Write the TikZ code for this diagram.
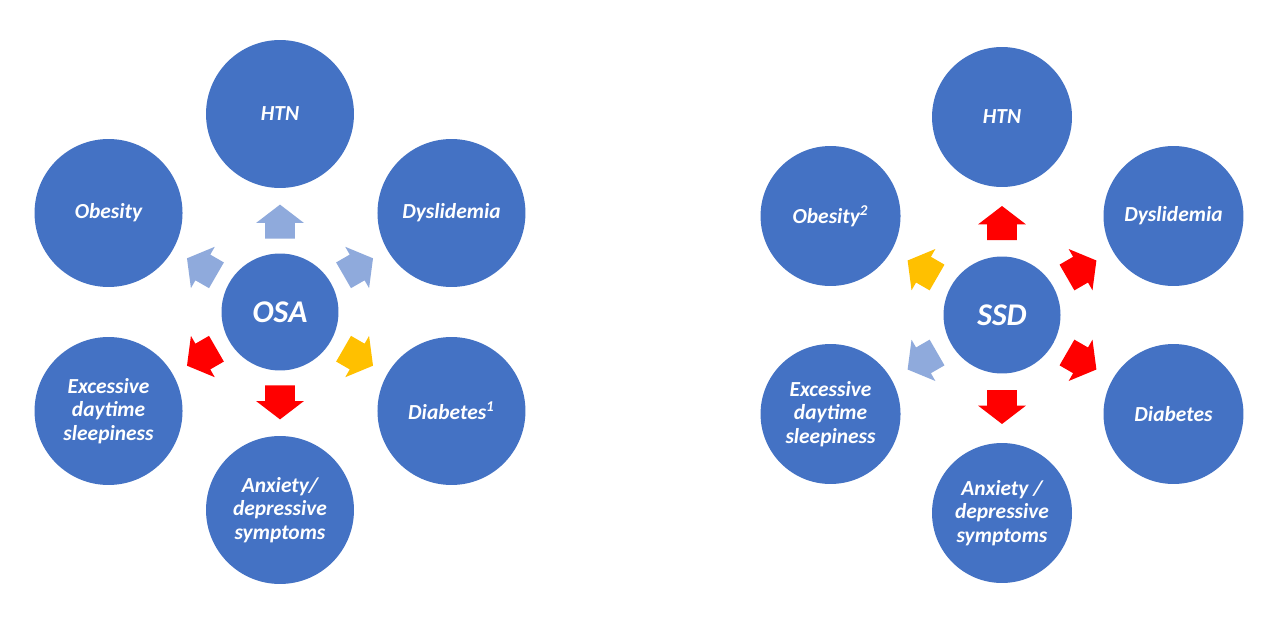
\documentclass[tikz,border=0pt]{standalone}
\usepackage{fontspec}
\setmainfont{Carlito}
\usetikzlibrary{shapes.arrows, calc, positioning}
\definecolor{myblue}{RGB}{68,114,196}
\definecolor{mylight}{RGB}{143,170,220}
\definecolor{myred}{RGB}{255,0,0}
\definecolor{myamber}{RGB}{255,192,0}
\tikzset{
  bignode/.style={circle, fill=myblue, minimum size=2.96cm,
    inner sep=0pt, outer sep=0pt, align=center, text=white,
    font=\fontsize{12.2}{13.4}\selectfont\bfseries\itshape},
  hub/.style={circle, fill=myblue, minimum size=2.34cm,
    inner sep=0pt, outer sep=0pt, text=white,
    font=\fontsize{18}{21}\selectfont\bfseries\itshape},
  blockarrow/.style={single arrow, draw=none, minimum height=0.68cm,
    minimum width=0.94cm, inner xsep=0pt, inner ysep=0.29cm,
    single arrow head extend=0.18cm, single arrow tip angle=105,
    outer sep=0pt},
  bluearrow/.style={blockarrow, fill=mylight},
  redarrow/.style={blockarrow, fill=myred},
  yellowarrow/.style={blockarrow, fill=myamber}
}

\begin{document}
\begin{tikzpicture}[x=0.02cm, y=0.02cm]
  \fill[white] (0,0) rectangle (1280,640);
  \useasboundingbox (0,0) rectangle (1280,640);
  % OSA
  \begin{scope}[shift={(280,328)}]
    \node[hub] (osa) at (0,0) {OSA};
    \node[bignode] (htnA) at (90:198) {HTN};
    \node[bignode] (obeA) at (150:198) {Obesity};
    \node[bignode] (dysA) at (30:198) {Dyslidemia};
    \node[bignode] (excA) at (210:198) {Excessive\\daytime\\sleepiness};
    \node[bignode] (diaA) at (330:198) {Diabetes\textsuperscript{1}};
    \node[bignode] (anxA) at (270:198) {Anxiety/\\depressive\\symptoms};
    \foreach \ang/\opp/\nm/\sty in {90/270/htnA/bluearrow, 150/330/obeA/bluearrow,
        30/210/dysA/bluearrow, 210/30/excA/redarrow,
        330/150/diaA/yellowarrow, 270/90/anxA/redarrow}
      \node[\sty, rotate=\ang] (to\nm) at ($(osa.\ang)!0.4!(\nm.\opp)$) {};
  \end{scope}
  % SSD
  \begin{scope}[shift={(1002,325)}, bignode/.append style={minimum size=2.8cm}]
    \node[hub] (ssd) at (0,0) {SSD};
    \node[bignode] (htnB) at (90:198) {HTN};
    \node[bignode] (obeB) at (150:198) {Obesity\textsuperscript{2}};
    \node[bignode] (dysB) at (30:198) {Dyslidemia};
    \node[bignode] (excB) at (210:198) {Excessive\\daytime\\sleepiness};
    \node[bignode] (diaB) at (330:198) {Diabetes};
    \node[bignode] (anxB) at (270:198) {Anxiety /\\depressive\\symptoms};
    \foreach \ang/\opp/\nm/\sty in {90/270/htnB/redarrow, 150/330/obeB/yellowarrow,
        30/210/dysB/redarrow, 210/30/excB/bluearrow,
        330/150/diaB/redarrow, 270/90/anxB/redarrow}
      \node[\sty, rotate=\ang] (to\nm) at ($(ssd.\ang)!0.4!(\nm.\opp)$) {};
  \end{scope}
\end{tikzpicture}
\end{document}
